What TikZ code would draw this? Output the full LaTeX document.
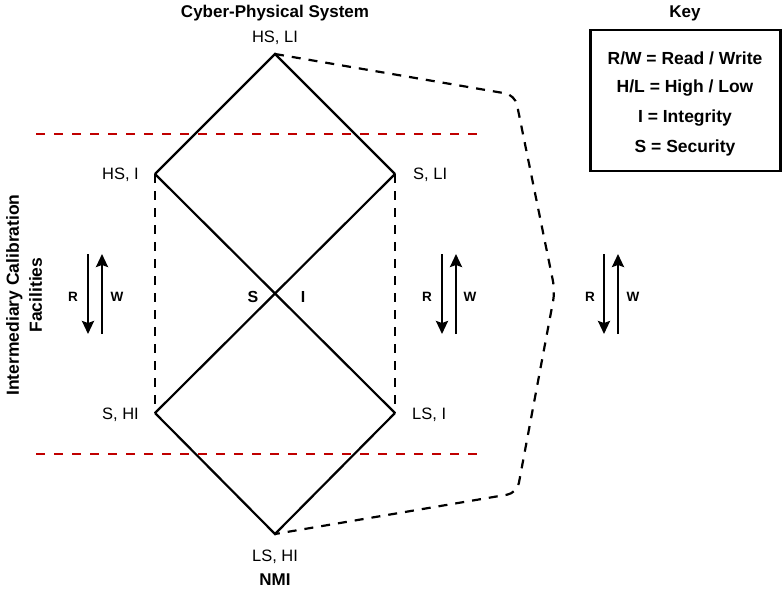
\documentclass[tikz,border=0pt]{standalone}
\usepackage{fontspec}
\setmainfont{Liberation Sans}
\usetikzlibrary{arrows.meta}
\definecolor{dred}{RGB}{192,0,0}
\tikzset{
  lbl/.style={font=\fontsize{16.5}{19}\selectfont, inner sep=0pt},
  blbl/.style={font=\fontsize{17}{19}\selectfont\bfseries, inner sep=0pt},
  rw/.style={font=\fontsize{13.5}{15}\selectfont\bfseries, inner sep=0pt},
  keytxt/.style={font=\fontsize{17.5}{19}\selectfont\bfseries, inner sep=0pt},
  edge/.style={line width=2.2pt},
  dedge/.style={line width=2.2pt, dash pattern=on 9pt off 8pt},
  redline/.style={line width=2.2pt, dred, dash pattern=on 9pt off 9pt},
  arr/.style={line width=2.4pt, -{Stealth[width=12pt,length=13pt,inset=2pt]}},
}
\begin{document}
\begin{tikzpicture}[x=1pt,y=-1pt]
\useasboundingbox (0,0) rectangle (782,590);
% vertices
\coordinate (T) at (275,54);
\coordinate (L) at (155,174);
\coordinate (R) at (395,174);
\coordinate (BL) at (155,413);
\coordinate (BR) at (395,413);
\coordinate (B) at (275,534);
\coordinate (C1) at (515,95);
\coordinate (C2) at (555,291);
\coordinate (C3) at (517,493);
% red dashed lines
\coordinate (r1a) at (36,134); \coordinate (r1b) at (478,134);
\coordinate (r2a) at (36,454); \coordinate (r2b) at (478,454);
\draw[redline] (r1a) -- (r1b);
\draw[redline] (r2a) -- (r2b);
% lattice
\draw[edge] (L) -- (T) -- (R);
\draw[edge] (L) -- (BR);
\draw[edge] (R) -- (BL);
\draw[edge] (BL) -- (B) -- (BR);
\draw[dedge] (L) -- (BL);
\draw[dedge] (R) -- (BR);
\draw[dedge, rounded corners=10pt] (T) -- (C1) -- (C2) -- (C3) -- (B);
% labels
\node[blbl] (cps) at (275,13) {Cyber-Physical System};
\node[lbl] (lT) at (275,38) {HS, LI};
\node[lbl, anchor=east] (lL) at (139,175) {HS, I};
\node[lbl, anchor=west] (lR) at (413,175) {S, LI};
\node[lbl, anchor=east] (lBL) at (139,415) {S, HI};
\node[lbl, anchor=west] (lBR) at (412,415) {LS, I};
\node[lbl] (lB) at (275,557) {LS, HI};
\node[blbl] (nmi) at (275,580) {NMI};
\node[blbl, font=\fontsize{16}{18}\selectfont\bfseries] (lS) at (253,297) {S};
\node[blbl, font=\fontsize{16}{18}\selectfont\bfseries] (lI) at (303,297) {I};
\node[blbl, rotate=90, align=center, font=\fontsize{17.5}{23}\selectfont\bfseries] (icf) at (24,295) {Intermediary Calibration\\Facilities};
% R/W arrows
\foreach \i/\xd/\xu/\xr/\xw in {1/88/102/73/117, 2/442/456/427/470, 3/604/618/590/633}{
  \coordinate (d\i a) at (\xd,254); \coordinate (d\i b) at (\xd,334);
  \coordinate (u\i a) at (\xu,334); \coordinate (u\i b) at (\xu,254);
  \draw[arr] (d\i a) -- (d\i b);
  \draw[arr] (u\i a) -- (u\i b);
  \node[rw] (R\i) at (\xr,297) {R};
  \node[rw] (W\i) at (\xw,297) {W};
}
% key
\node[blbl] (key) at (685,13) {Key};
\node[draw, line width=2.8pt, minimum width=190pt, minimum height=141pt, inner sep=0pt] (keybox) at (685.5,100.5) {};
\node[keytxt] (k1) at (685,58) {R/W = Read / Write};
\node[keytxt] (k2) at (685,88) {H/L = High / Low};
\node[keytxt] (k3) at (685,118) {I = Integrity};
\node[keytxt] (k4) at (685,148) {S = Security};
\end{tikzpicture}
\end{document}
